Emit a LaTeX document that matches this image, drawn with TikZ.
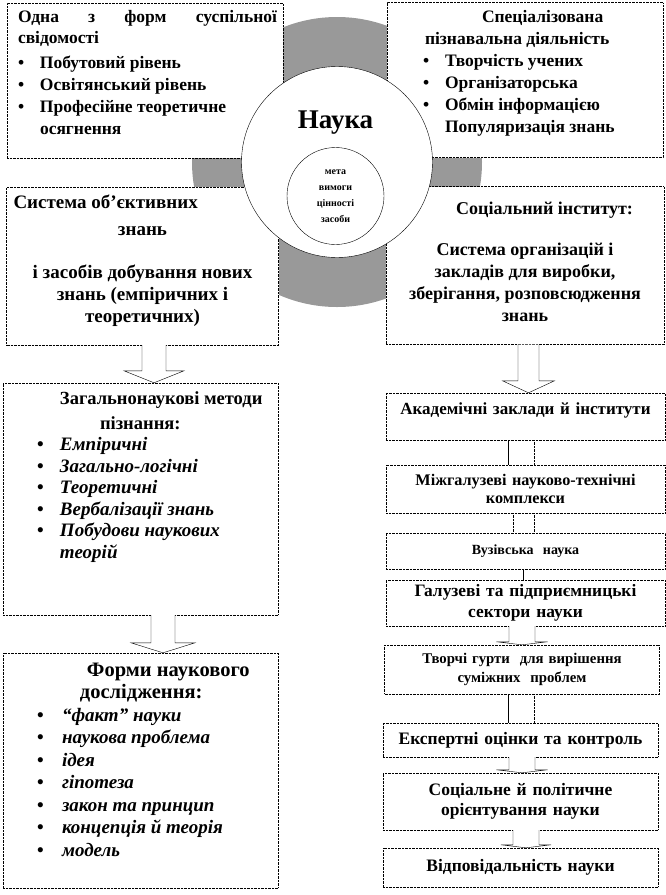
\documentclass[tikz,border=0pt]{standalone}
\usepackage{fontspec}
\setmainfont{Liberation Serif}
\usepackage{tikz}
\usetikzlibrary{positioning,calc}
\tikzstyle{BOX} = [rectangle, draw, densely dotted, fill=white, inner sep=0pt]
\tikzstyle{BLOCK} = [draw, fill=white, line join=miter]
\tikzstyle{LINE} = [draw]
\tikzstyle{DOTLINE} = [draw, densely dotted]
\newcommand{\BUL}[1][22pt]{\makebox[#1][l]{\textbullet}}
\newcommand{\BLOCKARROW}[6]{% from, to, x offset, shaft half width, head half width, head length
  \path [BLOCK] let \p1 = (#1.south), \p2 = (#2.north) in
    (\x1+#3-#4,\y1) -- (\x1+#3-#4,\y2+#6) -- (\x1+#3-#5,\y2+#6) -- (\x1+#3,\y2)
    -- (\x1+#3+#5,\y2+#6) -- (\x1+#3+#4,\y2+#6) -- (\x1+#3+#4,\y1);}

\begin{document}
\begin{tikzpicture}[x=1pt, y=1pt, node distance=2cm]
% Define
\tikzstyle{DISK} = [circle, fill=black!40, minimum size=290pt, inner sep=0pt]
\tikzstyle{CIRCLE_1} = [circle, draw, fill=white, minimum size=191pt, inner sep=0pt]
\tikzstyle{CIRCLE_2} = [circle, draw, fill=white, minimum size=97pt, inner sep=0pt, align=center, font=\bfseries\fontsize{10}{16}\selectfont]
\tikzstyle{BOX_TOP} = [BOX, minimum width=276pt, minimum height=155pt]
\tikzstyle{BOX_MID} = [BOX, minimum width=272pt, minimum height=158pt]
\tikzstyle{BOX_LOW} = [BOX, minimum width=275pt]
\tikzstyle{BOX_R} = [BOX, minimum width=279pt, text width=275pt, align=center]
\tikzstyle{TXT} = [inner sep=0pt, align=left, font=\bfseries\fontsize{17.5}{22}\selectfont]
\tikzstyle{TXT_C} = [TXT, align=center]
\tikzstyle{TXT_BIG} = [inner sep=0pt, font=\bfseries\fontsize{27}{30}\selectfont]
\useasboundingbox (0,0) rectangle (666,-895);
% Place nodes
\node [DISK] (disk) at (337,-162) {};
\node [BOX_TOP] (consc) at (145,-80.5) {};
\node [BOX_TOP, right of=consc, node distance=380pt, yshift=0.5pt] (activ) {};
\node [BOX_MID, below of=consc, node distance=185.5pt, xshift=-2.5pt] (system) {};
\node [BOX_MID, below of=activ, node distance=185.5pt, minimum width=278pt] (instit) {};
\node [BOX_LOW, minimum height=232pt, below of=system, node distance=233pt, xshift=-2pt] (methods) {};
\node [BOX_LOW, minimum height=235pt, below of=methods, node distance=271.5pt] (forms) {};
\node [BOX_R, minimum height=47pt, below of=instit, node distance=151pt, xshift=0.5pt,
  font=\bfseries\fontsize{17}{21}\selectfont] (acad) {\raisebox{16pt}{Академічні заклади й інститути}};
\node [BOX_R, minimum height=48pt, below of=acad, node distance=72.5pt,
  font=\bfseries\fontsize{16.2}{18}\selectfont] (inter) {Міжгалузеві науково-технічні\\ комплекси};
\node [BOX_R, minimum height=36pt, below of=inter, node distance=62pt,
  font=\bfseries\fontsize{14}{18}\selectfont] (univ) {Вузівська~~наука};
\node [BOX_R, minimum height=46pt, below of=univ, node distance=52pt,
  font=\bfseries\fontsize{17.4}{21}\selectfont] (branch) {\raisebox{-4pt}{Галузеві та підприємницькі}\\ \raisebox{-4pt}{сектори науки}};
\node [BOX_R, minimum height=49pt, minimum width=272pt, below of=branch, node distance=66.5pt, xshift=-3.5pt,
  font=\bfseries\fontsize{14.8}{19}\selectfont] (creat) {\raisebox{-3pt}{Творчі гурти~~для вирішення}\\ \raisebox{-3pt}{суміжних~~проблем}};
\node [BOX_R, minimum height=34pt, minimum width=275pt, below of=creat, node distance=70.5pt, xshift=-1.5pt,
  font=\bfseries\fontsize{17.5}{20}\selectfont] (expert) {Експертні оцінки та контроль};
\node [BOX_R, minimum height=57pt, minimum width=275pt, below of=expert, node distance=61.5pt,
  font=\bfseries\fontsize{17.5}{20}\selectfont] (orient) {Соціальне й політичне\\ орієнтування науки};
\node [BOX_R, minimum height=39pt, minimum width=275pt, below of=orient, node distance=66pt,
  font=\bfseries\fontsize{17.5}{20}\selectfont] (resp) {Відповідальність науки};
\node [CIRCLE_1] (science) at (337,-162) {};
\node [CIRCLE_2] (aims) at (335.5,-196) {мета\\вимоги\\цінності\\засоби};
\node [TXT_BIG, above=13pt of aims] (science_txt) {Наука};
% Texts in boxes
\node [TXT, below right=7pt and 11pt of consc.north west] (consc_txt)
  {\makebox[259pt][s]{Одна з форм суспільної}\\[-1pt]свідомості\\[3pt]
   \BUL Побутовий рівень\\ \BUL Освітянський рівень\\ \BUL Професійне теоретичне\\ \hspace*{22pt}осягнення};
\node [TXT, below right=8pt and 36pt of activ.north west] (activ_txt)
  {\hspace*{59pt}Спеціалізована\\ \hspace*{2pt}пізнавальна діяльність\\
   \BUL Творчість учених\\ \BUL Організаторська\\ \BUL Обмін інформацією\\ \hspace*{22pt}Популяризація знань};
\node [TXT_C, below=8pt of system.north, font=\bfseries\fontsize{19}{22}\selectfont] (system_txt)
  {\makebox[258pt][l]{Система об’єктивних}\\[5pt] знань\\[21pt] і засобів добування нових\\ знань (емпіричних і\\ теоретичних)};
\node [TXT_C, below=16pt of instit.north, font=\bfseries\fontsize{18}{22}\selectfont] (instit_txt)
  {\makebox[216pt][r]{Соціальний інститут:}\\[19pt] Система організацій і\\ закладів для виробки,\\ зберігання, розповсюдження\\ знань};
\node [TXT, below right=9pt and 34pt of methods.north west, font=\bfseries\fontsize{19}{21.5}\selectfont] (methods_txt)
  {\hspace*{23pt}{\fontsize{18.5}{21.5}\selectfont Загальнонаукові методи}\\[3pt] \hspace*{63pt}{\fontsize{18.5}{21.5}\selectfont пізнання:}\\
   \BUL[23pt]\textit{Емпіричні}\\ \BUL[23pt]\textit{Загально-логічні}\\ \BUL[23pt]\textit{Теоретичні}\\
   \BUL[23pt]\textit{Вербалізації знань}\\ \BUL[23pt]\textit{Побудови наукових}\\ \hspace*{23pt}\textit{теорій}};
\node [TXT, below right=10pt and 34pt of forms.north west, font=\bfseries\fontsize{19}{22.5}\selectfont] (forms_txt)
  {\hspace*{50pt}{\fontsize{20.5}{22.5}\selectfont Форми наукового}\\ \hspace*{43pt}{\fontsize{20.5}{22.5}\selectfont дослідження:}\\
   \BUL[25pt]\textit{“факт” науки}\\ \BUL[25pt]\textit{наукова проблема}\\ \BUL[25pt]\textit{ідея}\\
   \BUL[25pt]\textit{гіпотеза}\\ \BUL[25pt]\textit{закон та принцип}\\ \BUL[25pt]\textit{концепція й теорія}\\
   \BUL[25pt]\textit{модель}};
% LINES and ARROWS
\BLOCKARROW{system}{methods}{11.5pt}{12pt}{30pt}{12pt}
\BLOCKARROW{methods}{forms}{22.5pt}{12pt}{32pt}{10pt}
\BLOCKARROW{instit}{acad}{3.5pt}{10.5pt}{26pt}{12pt}
\path [LINE] ([xshift=-17.5pt]acad.south) -- ([xshift=-17.5pt]inter.north);
\path [DOTLINE] ([xshift=8.5pt]acad.south) -- ([xshift=8.5pt]inter.north);
\path [DOTLINE] ([xshift=-12.5pt]inter.south) -- ([xshift=-12.5pt]univ.north);
\path [DOTLINE] ([xshift=8.5pt]inter.south) -- ([xshift=8.5pt]univ.north);
\path [LINE] ([xshift=-2.5pt]univ.south) -- ([xshift=-2.5pt]branch.north);
\BLOCKARROW{branch}{creat}{-3.5pt}{13pt}{25.5pt}{3pt}
\path [LINE] ([xshift=-14pt]creat.south) -- ([xshift=-14pt]creat.south |- expert.north);
\path [DOTLINE] ([xshift=12pt]creat.south) -- ([xshift=12pt]creat.south |- expert.north);
\BLOCKARROW{expert}{orient}{1.5pt}{13pt}{25.5pt}{3pt}
\BLOCKARROW{orient}{resp}{5.5pt}{13pt}{25pt}{3pt}
\end{tikzpicture}
\end{document}
